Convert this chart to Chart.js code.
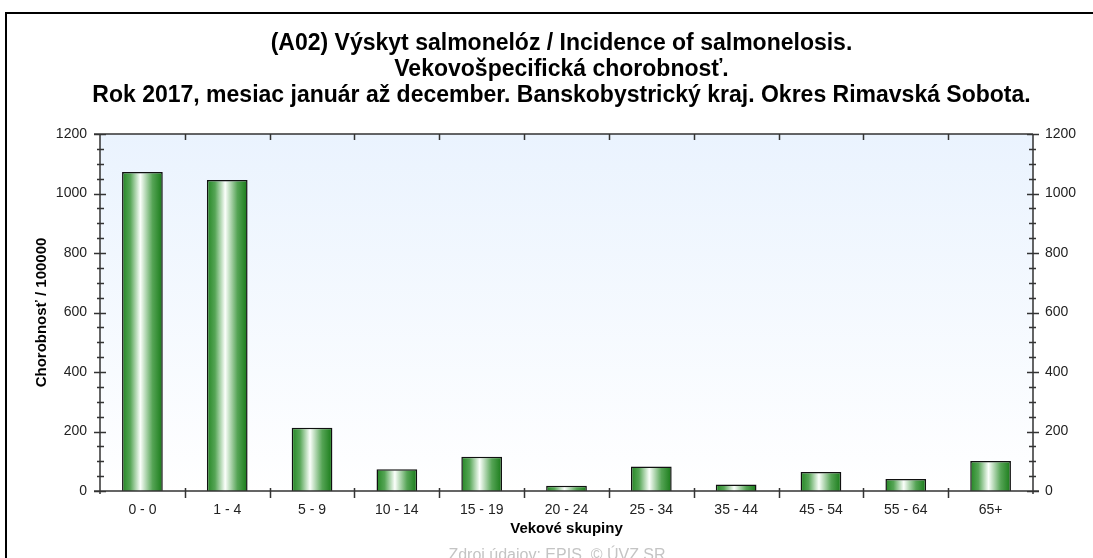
<!DOCTYPE html>
<html>
<head>
<meta charset="utf-8">
<title>Výskyt salmonelóz</title>
<script src="https://cdn.jsdelivr.net/npm/chart.js@4/dist/chart.umd.min.js"></script>
<style>
  html, body { margin: 0; padding: 0; background: #fff; }
  canvas { display: block; }
</style>
</head>
<body>
<canvas id="graf" width="1093" height="558"></canvas>
<script>
const vekoveSkupiny = ['0 - 0', '1 - 4', '5 - 9', '10 - 14', '15 - 19', '20 - 24', '25 - 34', '35 - 44', '45 - 54', '55 - 64', '65+'];
const chorobnost = [1072, 1045, 213, 73, 115, 18, 82, 22, 64, 40, 101];
const osY = { min: 0, max: 1200, krok: 200, malyKrok: 50 };

const nadpis = [
    '(A02) Výskyt salmonelóz / Incidence of salmonelosis.',
    'Vekovošpecifická chorobnosť.',
    'Rok 2017, mesiac január až december. Banskobystrický kraj. Okres Rimavská Sobota.'
];
const zdroj = 'Zdroj údajov: EPIS, © ÚVZ SR';

const pismo = "'Liberation Sans', Arial, sans-serif";
const sirkaStlpca = 0.48;

// farebny prechod v stlpci (tmava - biela - tmava)
const prechodStlpca = (ctx) => {
    const chart = ctx.chart;
    const x = chart.scales.x;
    if (!chart.chartArea || !x) return '#2a8a2a';
    const stred = x.getPixelForValue(ctx.dataIndex);
    const pol = x.width / vekoveSkupiny.length * sirkaStlpca / 2;
    const g = chart.ctx.createLinearGradient(stred - pol, 0, stred + pol, 0);
    g.addColorStop(0, '#238623');
    g.addColorStop(0.2, '#55a555');
    g.addColorStop(0.45, '#fbfffb');
    g.addColorStop(0.75, '#55a455');
    g.addColorStop(1, '#177a17');
    return g;
};

const pozadie = {
    id: 'pozadie',
    beforeDraw(chart) {
        const { ctx, chartArea: a } = chart;
        ctx.save();
        ctx.fillStyle = '#fff';
        ctx.fillRect(0, 0, chart.width, chart.height);
        const g = ctx.createLinearGradient(0, a.top, 0, a.bottom);
        g.addColorStop(0, '#eaf3fe');
        g.addColorStop(1, '#ffffff');
        ctx.fillStyle = g;
        ctx.fillRect(a.left, a.top, a.right - a.left, a.bottom - a.top);
        ctx.restore();
    }
};

const ramik = {
    id: 'ramik',
    afterDraw(chart) {
        const { ctx, chartArea: a } = chart;
        const x = chart.scales.x;
        const y = chart.scales.y;
        ctx.save();
        ctx.strokeStyle = '#333';
        ctx.lineWidth = 1.5;
        ctx.beginPath();
        // osi
        ctx.moveTo(a.left - 6, a.top); ctx.lineTo(a.right, a.top);
        ctx.moveTo(a.left, a.top); ctx.lineTo(a.left, a.bottom + 3);
        ctx.moveTo(a.right, a.top); ctx.lineTo(a.right, a.bottom + 3);
        ctx.moveTo(a.left - 6, a.bottom); ctx.lineTo(a.right + 6, a.bottom);
        // ciarky na osi Y (vlavo aj vpravo)
        for (let v = osY.min; v <= osY.max; v += osY.malyKrok) {
            const py = Math.round(y.getPixelForValue(v)) + 0.5;
            const velka = v % osY.krok === 0;
            ctx.moveTo(a.left - (velka ? 6 : 3), py); ctx.lineTo(a.left + (velka ? 6 : 4), py);
            ctx.moveTo(a.right - (velka ? 6 : 4), py); ctx.lineTo(a.right + (velka ? 6 : 3), py);
        }
        // ciarky na osi X medzi skupinami
        const kat = x.width / vekoveSkupiny.length;
        for (let i = 1; i < vekoveSkupiny.length; i++) {
            const px = Math.round(x.getPixelForValue(i) - kat / 2) + 0.5;
            ctx.moveTo(px, a.bottom - 3); ctx.lineTo(px, a.bottom + 7);
            ctx.moveTo(px, a.top); ctx.lineTo(px, a.top + 6);
        }
        ctx.stroke();

        // vonkajsi ramcek
        ctx.strokeStyle = '#000';
        ctx.lineWidth = 2;
        ctx.beginPath();
        ctx.moveTo(6, chart.height); ctx.lineTo(6, 13); ctx.lineTo(chart.width, 13);
        ctx.stroke();

        // zdroj udajov
        ctx.fillStyle = '#c4c4c4';
        ctx.font = '16px ' + pismo;
        ctx.textAlign = 'center';
        ctx.textBaseline = 'alphabetic';
        ctx.fillText(zdroj, 557, 560);
        ctx.restore();
    }
};

const tickFont = { family: pismo, size: 14 };
const bezOddelovaca = (v) => String(v);

new Chart(document.getElementById('graf').getContext('2d'), {
    type: 'bar',
    data: {
        labels: vekoveSkupiny,
        datasets: [{
            data: chorobnost,
            backgroundColor: prechodStlpca,
            borderColor: '#111',
            borderWidth: 1.5,
            borderSkipped: 'start',
            barPercentage: sirkaStlpca,
            categoryPercentage: 1
        }]
    },
    options: {
        responsive: false,
        animation: false,
        layout: { padding: { left: 30, right: 0, top: 0, bottom: 0 } },
        plugins: {
            legend: { display: false },
            tooltip: { enabled: false },
            title: {
                display: true,
                text: nadpis,
                color: '#000',
                font: { family: pismo, size: 23, weight: 'bold', lineHeight: '26px' },
                padding: { top: 31, bottom: 25 }
            }
        },
        scales: {
            x: {
                offset: true,
                grid: { display: false, drawTicks: false },
                border: { display: false },
                ticks: { color: '#222', font: tickFont, padding: 11, maxRotation: 0, autoSkip: false },
                title: {
                    display: true,
                    text: 'Vekové skupiny',
                    color: '#000',
                    font: { family: pismo, size: 15, weight: 'bold' },
                    padding: { top: 0, bottom: 20 }
                },
                afterFit(s) { s.height = 67; }
            },
            y: {
                position: 'left',
                min: osY.min,
                max: osY.max,
                grid: { display: false, drawTicks: false },
                border: { display: false },
                ticks: { stepSize: osY.krok, color: '#222', font: tickFont, padding: 13, callback: bezOddelovaca },
                title: {
                    display: true,
                    text: 'Chorobnosť / 100000',
                    color: '#000',
                    font: { family: pismo, size: 15, weight: 'bold' },
                    padding: { top: 3, bottom: 0 }
                },
                afterFit(s) { s.width = 70; }
            },
            y2: {
                position: 'right',
                min: osY.min,
                max: osY.max,
                grid: { display: false, drawTicks: false },
                border: { display: false },
                ticks: { stepSize: osY.krok, color: '#222', font: tickFont, padding: 12, callback: bezOddelovaca },
                afterFit(s) { s.width = 60; }
            }
        }
    },
    plugins: [pozadie, ramik]
});
</script>
</body>
</html>
